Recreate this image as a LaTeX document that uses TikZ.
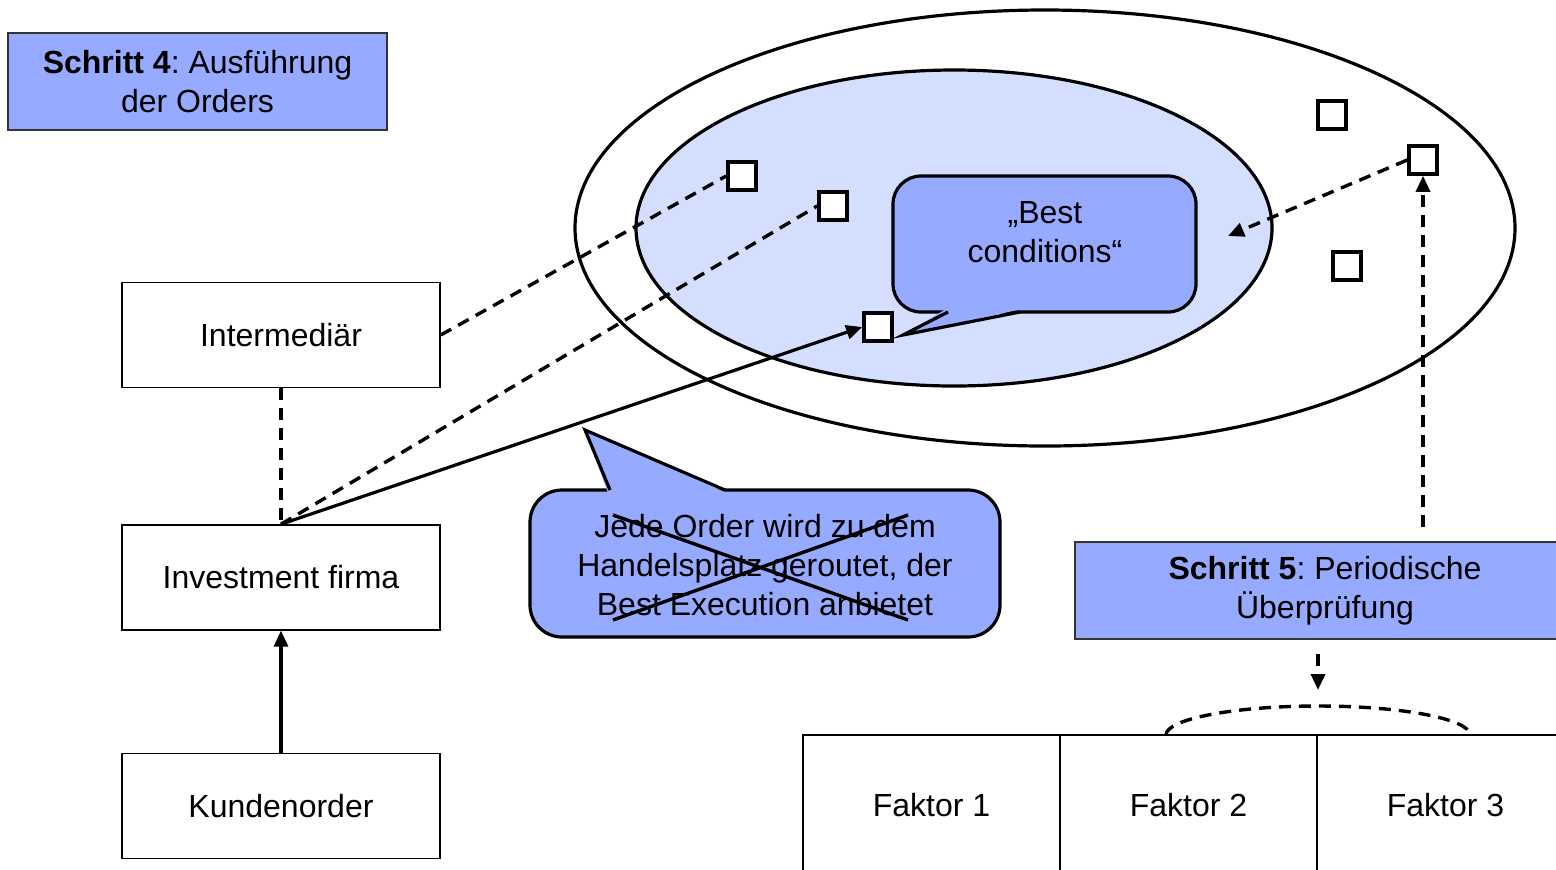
\documentclass[tikz,border=0pt]{standalone}
\usepackage{fontspec}
\setmainfont{Liberation Sans}
\usetikzlibrary{positioning, arrows.meta, calc}
\definecolor{stepblue}{RGB}{150, 170, 255}
\definecolor{venueblue}{RGB}{212, 222, 255}
\frenchspacing

\begin{document}
\begin{tikzpicture}[x=0.5pt, y=-0.5pt,
      orderbox/.style={draw=black, fill=white, line width=0.7pt, minimum width=159pt, minimum height=52.5pt, align=center, inner sep=0pt, font=\fontsize{16}{19.5}\selectfont},
      stepbox/.style={draw=black!80, fill=stepblue, line width=0.7pt, minimum height=48.5pt, align=center, inner sep=0pt, font=\fontsize{16}{19.5}\selectfont},
      factorbox/.style={draw=black, fill=white, line width=0.7pt, minimum width=128.5pt, minimum height=70pt, inner sep=0pt, font=\fontsize{16}{19.5}\selectfont},
      venue/.style={draw=black, fill=white, line width=1.8pt, minimum size=14pt, inner sep=0pt},
      calloutshape/.style={draw=black, fill=stepblue, line width=1.6pt},
      callouttext/.style={align=center, inner sep=0pt, font=\fontsize{16}{19.5}\selectfont},
      dashline/.style={line width=1.7pt, dash pattern=on 6pt off 4pt},
      tip/.style={-{Triangle[length=8pt, width=7pt]}}
    ]
      \path[use as bounding box, fill=white] (0,0) rectangle (1556,869);
      \clip (0,0) rectangle (1556,869);

      % trading venues
      \draw[line width=1.6pt] (1045,228) ellipse [x radius=235pt, y radius=109pt];
      \draw[line width=1.6pt, fill=venueblue] (954,228) ellipse [x radius=159pt, y radius=79pt];

      % "Best conditions" callout
      \draw[calloutshape, rounded corners=14pt] (893,176) rectangle (1196,312);
      \fill[stepblue] (946,309) -- (903,335) -- (1022,309) -- cycle;
      \draw[line width=1.6pt, line join=miter] (948,312) -- (903,335) -- (1020,312);
      \node[callouttext] (bc) at (1045,232) {„Best\\conditions“};

      % crossed-out callout
      \draw[calloutshape, rounded corners=16pt] (530,490) rectangle (1000,637);
      \fill[stepblue] (608,493) -- (585,430) -- (727,493) -- cycle;
      \draw[line width=1.6pt, line join=miter] (610,490) -- (585,430) -- (725,490);
      \node[callouttext] (rule) at (765,565) {Jede Order wird zu dem\\Handelsplatz geroutet, der\\Best Execution anbietet};
      \draw[line width=1.7pt] (613,515) -- (908,620);
      \draw[line width=1.7pt] (613,620) -- (908,515);

      % order chain
      \node[stepbox, minimum width=189.5pt] (s4) at (197.5,81.5) {\textbf{Schritt 4}: Ausführung\\der Orders};
      \node[orderbox] (inter) at (281,335) {Intermediär};
      \node[orderbox, below=68pt of inter] (inv) {Investment firma};
      \node[orderbox, below=61pt of inv] (kunde) {Kundenorder};

      % venues
      \node[venue] (v1) at (742,176) {};
      \node[venue] (v2) at (833,206) {};
      \node[venue] (v3) at (878,327) {};
      \node[venue] (v4) at (1332,115) {};
      \node[venue] (v5) at (1423,160) {};
      \node[venue] (v6) at (1347,266) {};

      \draw[dashline] (inter.south) -- (inv.north);
      \draw[line width=1.6pt, tip] (kunde.north) -- (inv.south);
      \draw[dashline] (inter.east) -- (v1.west);
      \draw[dashline] (inv.north) -- (v2.west);
      \draw[line width=1.6pt, tip] (inv.north) -- (v3.west);

      \coordinate (bcin) at (1228,236);
      \draw[dashline, tip] (v5.west) -- (bcin);

      % periodic review
      \node[stepbox, minimum width=250pt] (s5) at (1325,590.5) {\textbf{Schritt 5}: Periodische\\Überprüfung};
      \draw[dashline, tip, shorten <=7pt] (s5.north -| v5) -- (v5.south);

      \node[factorbox] (f1) at (931.5,805) {Faktor 1};
      \node[factorbox] (f2) at (1188.5,805) {Faktor 2};
      \node[factorbox] (f3) at (1445.5,805) {Faktor 3};

      \coordinate (arctop) at (1318,706);
      \draw[dashline, tip, shorten <=7pt, shorten >=8pt] (s5.south -| arctop) -- (arctop);
      \draw[dashline] (1166,735) arc[start angle=180, end angle=0, x radius=76pt, y radius=14.5pt];
    \end{tikzpicture}
\end{document}
